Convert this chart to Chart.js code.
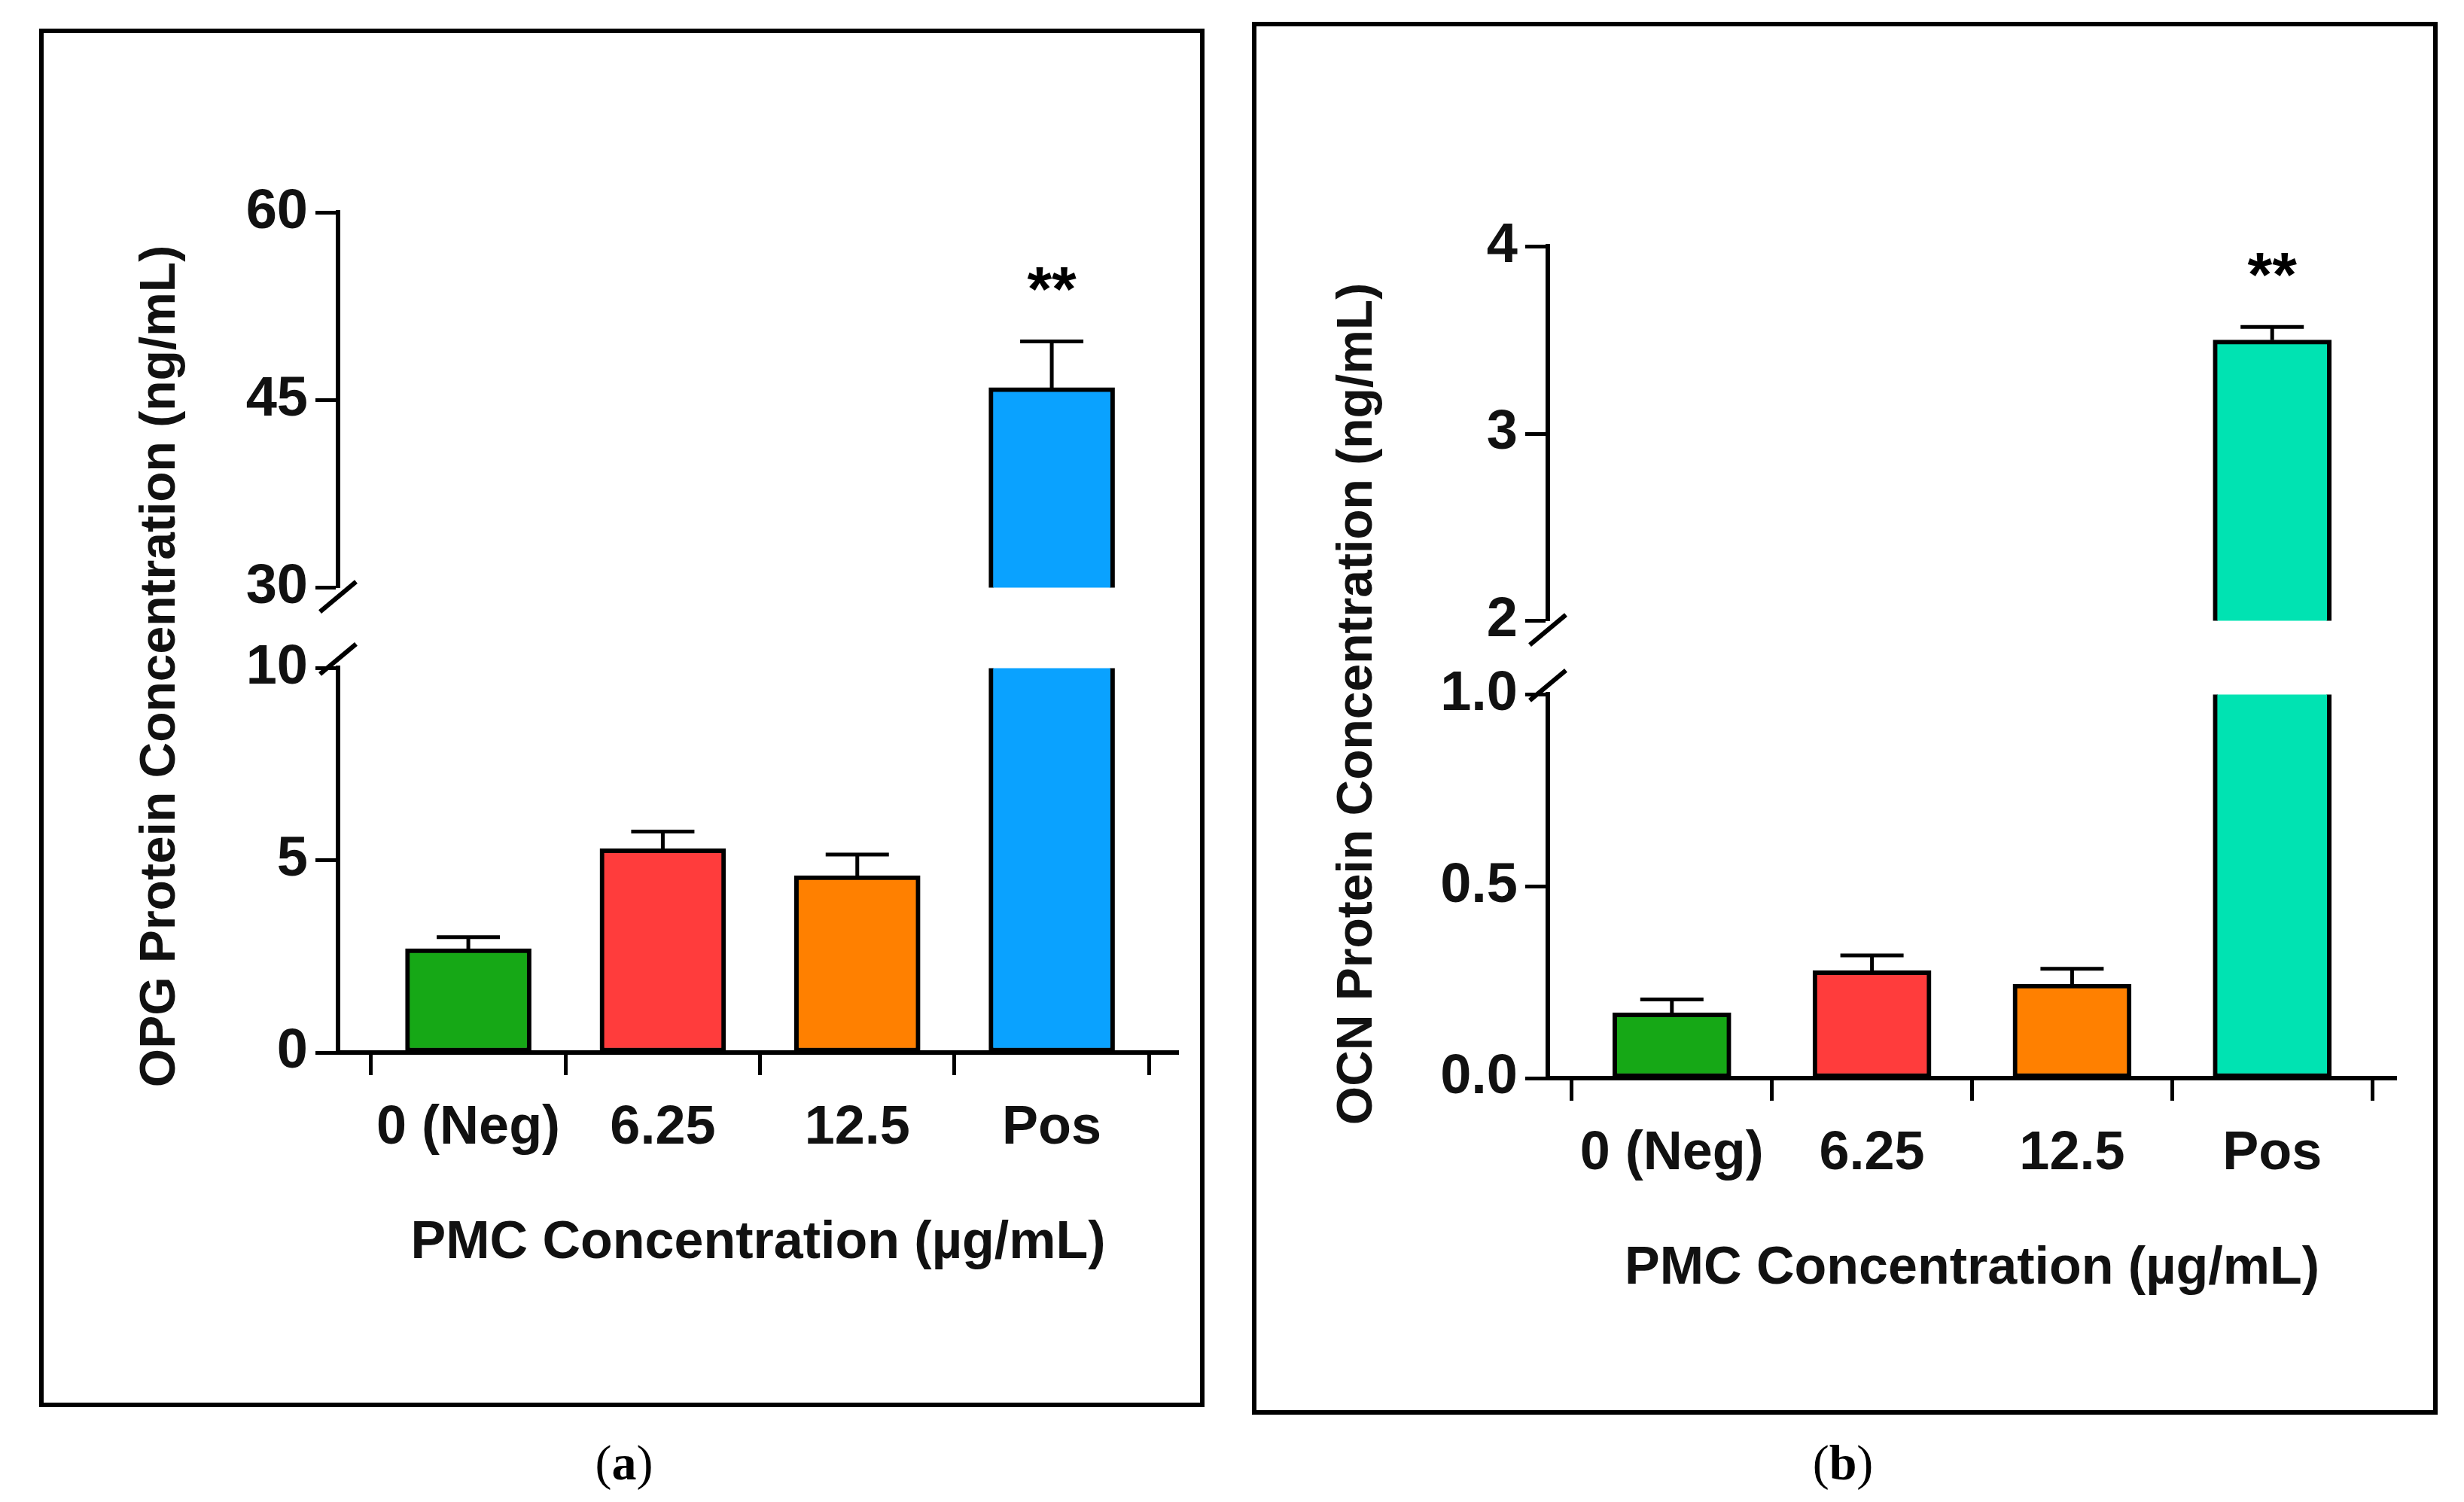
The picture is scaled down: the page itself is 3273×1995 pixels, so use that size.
<!DOCTYPE html>
<html>
<head>
<meta charset="utf-8">
<script src="https://cdn.jsdelivr.net/npm/chart.js@4"></script>
<style>
  body { margin: 0; background: #fff; width: 3273px; height: 1995px; position: relative; overflow: hidden; font-family: "Liberation Sans", Arial, sans-serif; }
  .box { position: absolute; border: 6px solid #000; box-sizing: border-box; }
  canvas { position: absolute; }
  .ytitle { position: absolute; font-weight: bold; font-size: 66px; white-space: nowrap; transform: translate(-50%, -50%) rotate(-90deg); color: #111; }
  .cap { position: absolute; font-family: "Liberation Serif", serif; font-size: 66px; transform: translateX(-50%); }
</style>
</head>
<body>
<div class="box" style="left:52px;top:38px;width:1548px;height:1831px"></div>
<div class="box" style="left:1663px;top:29px;width:1575px;height:1850px"></div>
<div class="ytitle" style="left:209px;top:885px">OPG Protein Concentration (ng/mL)</div>
<div class="ytitle" style="left:1799px;top:935px">OCN Protein Concentration (ng/mL)</div>
<div class="cap" style="left:829px;top:1905px">(<b>a</b>)</div>
<div class="cap" style="left:2448px;top:1905px">(<b>b</b>)</div>
<script>
const categories = ['0 (Neg)', '6.25', '12.5', 'Pos'];
const opgMeans = [2.7, 5.3, 4.6, 46.0];
const opgErrors = [0.3, 0.45, 0.55, 3.7];
const ocnMeans = [0.17, 0.28, 0.245, 3.5];
const ocnErrors = [0.035, 0.04, 0.04, 0.07];
const opgTopTicks = [30, 45, 60];
const opgLowTicks = [0, 5, 10];
const ocnTopTicks = [2, 3, 4];
const ocnLowTicks = [0, 0.5, 1.0];
const colorsA = ['#16a816', '#ff3c3c', '#ff8000', '#0aa2ff'];
const colorsB = ['#16a816', '#ff3c3c', '#ff8000', '#00e3b2'];

const FONT = "'Liberation Sans', Arial, sans-serif";
const YW = 200, PADT = 50, PADR = 110, XH = 300;

function errorPlugin(errs, skipPos, stars) {
  return {
    id: 'errs',
    afterDatasetsDraw(chart) {
      const ctx = chart.ctx, xs = chart.scales.x, ys = chart.scales.y;
      const data = chart.data.datasets[0].data;
      ctx.save();
      ctx.strokeStyle = '#000'; ctx.lineWidth = 5;
      data.forEach((d, i) => {
        if (d.y === null || (skipPos && i === 3)) return;
        const x = xs.getPixelForValue(d.x);
        const y0 = ys.getPixelForValue(d.y), y1 = ys.getPixelForValue(d.y + errs[i]);
        ctx.beginPath();
        ctx.moveTo(x, y0); ctx.lineTo(x, y1);
        ctx.moveTo(x - 42, y1); ctx.lineTo(x + 42, y1);
        ctx.stroke();
        if (stars) {
          ctx.fillStyle = '#000';
          ctx.font = 'bold 84px ' + FONT;
          ctx.textAlign = 'center';
          ctx.fillText('**', x, y1 - 40);
        }
      });
      ctx.restore();
    }
  };
}

function slashPlugin(atTop) {
  return {
    id: 'slash',
    afterDraw(chart) {
      const ctx = chart.ctx, a = chart.chartArea;
      const x = a.left, y = atTop ? a.top - 12 : a.bottom + 12;
      ctx.save();
      ctx.strokeStyle = '#000'; ctx.lineWidth = 6;
      ctx.beginPath();
      ctx.moveTo(x - 24, y + 20); ctx.lineTo(x + 24, y - 20);
      ctx.stroke();
      ctx.restore();
    }
  };
}

function yScale(min, max, ticks, digits) {
  return {
    min, max,
    afterBuildTicks: s => { s.ticks = ticks.map(v => ({ value: v })); },
    afterFit: s => { s.width = YW; },
    ticks: { color: '#111', font: { family: FONT, size: 74, weight: 'bold' }, padding: 10,
             callback: v => digits ? v.toFixed(digits) : String(v) },
    grid: { drawOnChartArea: false, color: '#000', tickLength: 30, tickWidth: 5 },
    border: { color: '#000', width: 6 }
  };
}

function makeChart(left, top, w, h, datasets, scales, plugins, padB) {
  const c = document.createElement('canvas');
  c.width = w; c.height = h;
  c.style.left = left + 'px'; c.style.top = top + 'px';
  document.body.appendChild(c);
  new Chart(c.getContext('2d'), {
    type: 'bar',
    data: { datasets },
    options: {
      responsive: false, animation: false, devicePixelRatio: 1,
      layout: { padding: { top: PADT, right: PADR, bottom: padB, left: 0 } },
      plugins: { legend: { display: false }, tooltip: { enabled: false } },
      scales
    },
    plugins
  });
}

function panel(p) {
  const w = p.right - p.axisX;
  const pts = p.means.map((v, i) => ({ x: i, y: v }));
  const topPts = p.means.map((v, i) => ({ x: i, y: i === 3 ? v : null }));
  const ds = data => [{ data, backgroundColor: p.colors, borderColor: '#000', borderWidth: 6,
                        borderSkipped: false, barThickness: p.barW, grouped: false }];
  const xBase = { type: 'linear', min: p.xmin, max: p.xmax, offset: false };
  // upper segment
  makeChart(p.axisX - YW, p.topT - PADT, w + YW + PADR, p.topB - p.topT + PADT + 40,
    ds(topPts),
    { x: Object.assign({ display: false }, xBase), y: yScale(p.topTicks[0], p.topTicks[2], p.topTicks, 0) },
    [errorPlugin(p.errs, false, true), slashPlugin(false)], 40);
  // lower segment
  makeChart(p.axisX - YW, p.lowT - PADT, w + YW + PADR, p.lowB - p.lowT + PADT + XH,
    ds(pts),
    { x: Object.assign({}, xBase, {
        afterBuildTicks: s => { s.ticks = categories.map((c, i) => ({ value: i })); },
        afterFit: s => { s.height = XH; },
        ticks: { color: '#111', font: { family: FONT, size: 72, weight: 'bold' }, padding: 28,
                 callback: v => categories[v] },
        grid: { drawOnChartArea: false, color: '#000', tickLength: 30, tickWidth: 5 },
        border: { color: '#000', width: 6 },
        title: { display: true, text: 'PMC Concentration (µg/mL)', color: '#111',
                 font: { family: FONT, size: 70, weight: 'bold' }, padding: { top: 0 } }
      }),
      y: yScale(p.lowTicks[0], p.lowTicks[2], p.lowTicks, p.digits) },
    [errorPlugin(p.errs, true, false), slashPlugin(true)], 0);
}

panel({ axisX: 449, right: 1565, topT: 278, topB: 795, lowT: 883, lowB: 1398,
        xmin: -0.67, xmax: 3.65, barW: 167, means: opgMeans, errs: opgErrors,
        topTicks: opgTopTicks, lowTicks: opgLowTicks, digits: 0, colors: colorsA });
panel({ axisX: 2056, right: 3183, topT: 323, topB: 839, lowT: 918, lowB: 1432,
        xmin: -0.62, xmax: 3.62, barW: 157, means: ocnMeans, errs: ocnErrors,
        topTicks: ocnTopTicks, lowTicks: ocnLowTicks, digits: 1, colors: colorsB });
</script>
</body>
</html>
